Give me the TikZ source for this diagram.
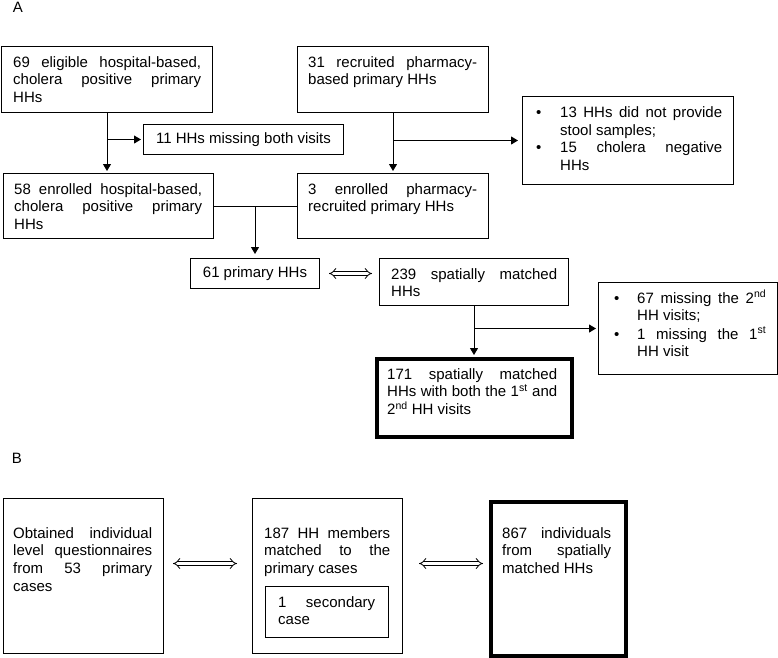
\documentclass[tikz,border=0pt]{standalone}
\usepackage{fontspec}
\setmainfont{Liberation Sans}
\usetikzlibrary{arrows.meta,calc}
\begin{document}
\begin{tikzpicture}[x=1pt,y=-1pt,
  box/.style={draw, line width=1pt, inner sep=0pt, anchor=north west, font=\fontsize{15}{17.7}\selectfont},
  thickbox/.style={draw, line width=4pt, inner sep=0pt, anchor=north west},
  txt/.style={inner sep=0pt, anchor=base west, align=justify, font=\fontsize{15}{17.7}\selectfont},
  bul/.style={inner sep=0pt, anchor=base west, font=\fontsize{15}{17.7}\selectfont},
  lbl/.style={inner sep=0pt, font=\fontsize{15}{17.7}\selectfont},
  arr/.style={line width=1pt, -{Triangle[length=7pt,width=8pt]}, shorten >=2pt},
  ln/.style={line width=1pt},
  dbl/.style={double, double distance=3pt, line width=0.8pt, {Implies}-{Implies}}
]
\useasboundingbox (0,0) rectangle (778,657);

\node[lbl] (lA) at (18,7) {A};
\node[lbl] (lB) at (17,458) {B};

% Part A
\node[box, minimum width=211pt, minimum height=66pt] (b69) at (1,46) {};
\node[txt, text width=188pt] (t69) at (13,67) {69 eligible hospital-based,\linebreak cholera positive primary\linebreak HHs};

\node[box, minimum width=200pt, minimum height=30pt] (b11) at (143,124) {11 HHs missing both visits};

\node[box, minimum width=191pt, minimum height=66pt] (b31) at (297,46) {};
\node[txt, text width=169pt] (t31) at (308,67) {31 recruited pharmacy-\linebreak based primary HHs};

\node[box, minimum width=211pt, minimum height=88pt] (b13) at (522,96) {};
\node[bul] (u13a) at (536,117.5) {\textbullet};
\node[txt, text width=162pt] (t13a) at (560,117.5) {13 HHs did not provide\linebreak stool samples;};
\node[bul] (u13b) at (536,152.7) {\textbullet};
\node[txt, text width=162pt] (t13b) at (560,152.7) {15 cholera negative\linebreak HHs};

\node[box, minimum width=210pt, minimum height=65pt] (b58) at (3,173) {};
\node[txt, text width=188pt] (t58) at (14,194) {58 enrolled hospital-based,\linebreak cholera positive primary\linebreak HHs};

\node[box, minimum width=191pt, minimum height=65pt] (b3) at (297,173) {};
\node[txt, text width=169pt] (t3) at (308,194) {3 enrolled pharmacy-\linebreak recruited primary HHs};

\node[box, minimum width=129pt, minimum height=30pt] (b61) at (190,258) {61 primary HHs};

\node[box, minimum width=189pt, minimum height=47pt] (b239) at (379,258) {};
\node[txt, text width=166pt] (t239) at (391,279) {239 spatially matched\linebreak HHs};

\node[box, minimum width=179pt, minimum height=92pt] (b67) at (598,282) {};
\node[bul] (u67a) at (614,303) {\textbullet};
\node[txt, text width=129pt] (t67a) at (637,303) {67 missing the 2\textsuperscript{nd}\linebreak HH visits;};
\node[bul] (u67b) at (614,339) {\textbullet};
\node[txt, text width=129pt] (t67b) at (637,339) {1 missing the 1\textsuperscript{st}\linebreak HH visit};

\node[thickbox, minimum width=195pt, minimum height=78pt] (b171) at (375,357) {};
\node[txt, text width=170pt] (t171) at (387,379) {171 spatially matched\linebreak HHs with both the 1\textsuperscript{st} and\linebreak 2\textsuperscript{nd} HH visits};

% connectors A
\draw[arr] (b69.south) -- (b69.south |- b58.north);
\coordinate (j1) at (b69.south |- b11.west);
\draw[arr] (j1) -- (b11.west);
\draw[arr] (b31.south) -- (b31.south |- b3.north);
\coordinate (j2) at (b31.south |- b13.west);
\draw[arr, shorten >=4pt] (j2) -- (b13.west);
\draw[ln] (b58.east) -- (b3.west);
\coordinate (j3) at (b61.north |- b58.east);
\draw[arr, shorten >=4pt] (j3) -- (b61.north);
\coordinate (d1) at (b61.east -| b239.west);
\draw[dbl, shorten <=9pt, shorten >=7pt] (b61.east) -- (d1);
\draw[arr] (b239.south) -- (b239.south |- b171.north);
\coordinate (j4) at (b239.south |- b67.west);
\draw[arr] (j4) -- (b67.west);

% Part B
\node[box, minimum width=160pt, minimum height=155pt] (bObt) at (3,498) {};
\node[txt, text width=139pt] (tObt) at (13,538) {Obtained individual\linebreak level questionnaires\linebreak from 53 primary\linebreak cases};

\node[box, minimum width=150pt, minimum height=155pt] (b187) at (252,498) {};
\node[txt, text width=126pt] (t187) at (264,538) {187 HH members\linebreak matched to the\linebreak primary cases};
\node[box, minimum width=123pt, minimum height=51pt] (b1sec) at (265,586) {};
\node[txt, text width=97pt] (t1sec) at (278,607) {1 secondary\linebreak case};

\node[thickbox, minimum width=135pt, minimum height=154pt] (b867) at (489,499.5) {};
\node[txt, text width=109pt] (t867) at (502,538) {867 individuals\linebreak from spatially\linebreak matched HHs};

\coordinate (p1) at ($(bObt.east)+(9,-12.5)$);
\coordinate (p2) at ($(p1 -| b187.west)+(-15,0)$);
\draw[dbl] (p1) -- (p2);
\coordinate (p3) at ($(p1 -| b187.east)+(16,0)$);
\coordinate (p4) at ($(p1 -| b867.west)+(-6,0)$);
\draw[dbl] (p3) -- (p4);
\end{tikzpicture}
\end{document}
